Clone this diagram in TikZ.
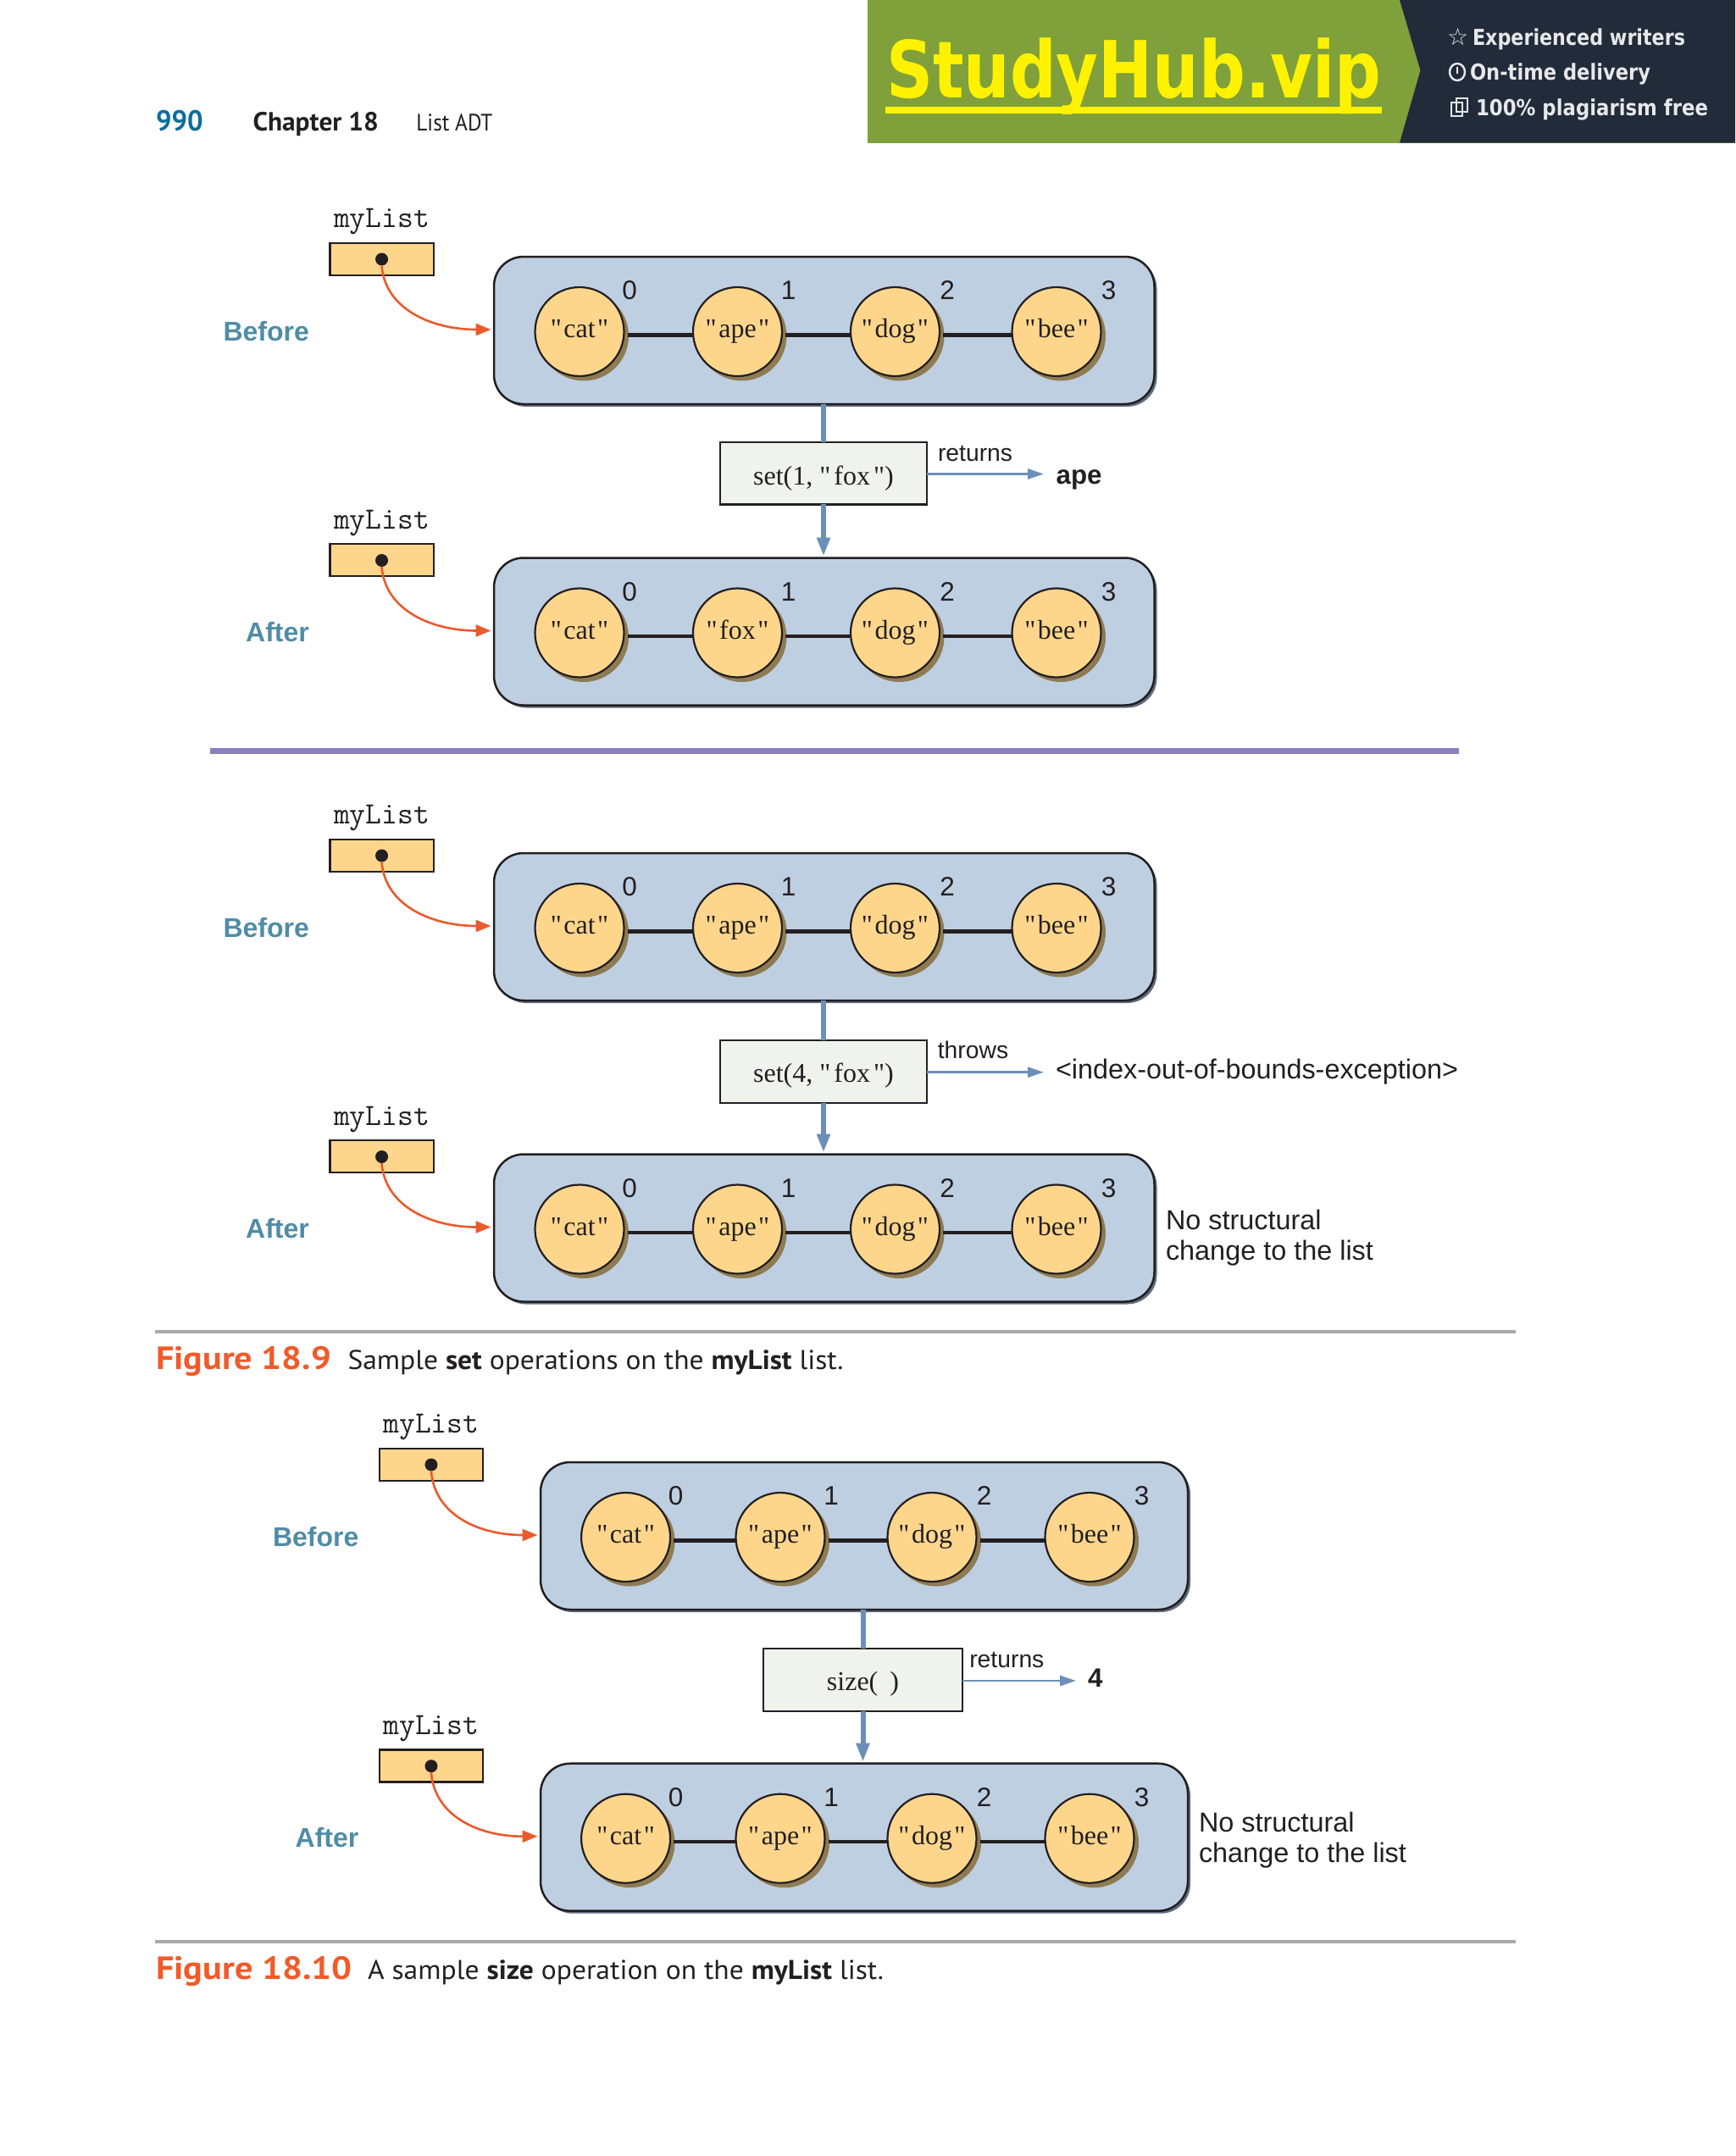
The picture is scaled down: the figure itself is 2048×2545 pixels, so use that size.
\documentclass[tikz,border=0pt]{standalone}
\usepackage{fontspec}
\usetikzlibrary{arrows.meta}
\setmainfont{Liberation Sans}
\newfontfamily\bookfont{PT Sans}
\newfontfamily\timesfont{Liberation Serif}
\newfontfamily\bannerfont{DejaVu Sans}
\newcommand{\fz}[1]{\fontsize{#1}{#1}\selectfont}
\newcommand{\fitw}[2]{\resizebox{#1pt}{\height}{#2}}
\newcommand{\qw}[1]{\char34\kern2.5pt #1\kern2.5pt\char34}
\definecolor{ink}{HTML}{231F20}
\definecolor{panelc}{HTML}{BFCFE2}
\definecolor{panelsh}{HTML}{5E6C80}
\definecolor{disc}{HTML}{FDD68C}
\definecolor{discsh}{HTML}{8F7B52}
\definecolor{flow}{HTML}{6C8FB8}
\definecolor{orangec}{HTML}{EA5A2C}
\definecolor{tealc}{HTML}{4F8CA6}
\definecolor{opfill}{HTML}{F0F2EE}
\definecolor{rulec}{HTML}{A9A9AB}
\definecolor{purplec}{HTML}{8B80BD}
\definecolor{figc}{HTML}{F15A29}
\definecolor{pagenum}{HTML}{0B6E99}
\definecolor{bgreen}{HTML}{7FA03A}
\definecolor{bdark}{HTML}{212B3A}
\definecolor{byellow}{HTML}{FFF200}
\definecolor{bwhite}{HTML}{E8E8EA}
\tikzset{
  txt/.style={inner sep=0pt,outer sep=0pt,text=ink,anchor=base},
  panelbox/.style={rectangle,rounded corners=35pt,draw=ink,line width=2.5pt,fill=panelc,inner sep=0pt,outer sep=0pt},
  panelshadow/.style={rectangle,rounded corners=35pt,fill=panelsh,inner sep=0pt,outer sep=0pt},
  disccirc/.style={circle,draw=ink,line width=2.2pt,fill=disc,minimum size=105pt,inner sep=0pt,outer sep=0pt},
  discshadow/.style={circle,fill=discsh,minimum size=106pt,inner sep=0pt,outer sep=0pt},
  linkl/.style={draw=ink,line width=4.5pt},
  refbox/.style={rectangle,draw=ink,line width=2.2pt,fill=disc,inner sep=0pt,outer sep=0pt},
  refdot/.style={circle,fill=ink,minimum size=15pt,inner sep=0pt,outer sep=0pt},
  refarrow/.style={draw=orangec,line width=2.6pt,-{Triangle[length=18pt,width=14pt,fill=orangec]}},
  opbox/.style={rectangle,draw=ink,line width=2.2pt,fill=opfill,inner sep=0pt,outer sep=0pt},
  flowthick/.style={draw=flow,line width=6pt},
  flowarrow/.style={draw=flow,line width=6pt,-{Triangle[length=22pt,width=15pt,fill=flow]},shorten >=2pt},
  flowthin/.style={draw=flow,line width=2.8pt,-{Triangle[length=19pt,width=12pt,fill=flow]}},
  mono/.style={txt,font=\ttfamily\fz{36.5}},
  idx/.style={txt,font=\fz{31.5}},
  word/.style={txt,font=\timesfont\fz{32}},
  sans/.style={txt,anchor=base west,font=\fz{32.4}},
  small/.style={txt,anchor=base west,font=\fz{28.3}},
  phase/.style={txt,anchor=base east,text=tealc,font=\bfseries\fz{32}},
  bookt/.style={txt,anchor=base west,font=\bookfont\fz{32}},
  bannert/.style={txt,anchor=base west,text=bwhite,font=\bannerfont\bfseries\fz{26}}
}
% #1 prefix, #2 panel top, #3 second word, #4 phase label
\newcommand{\listrow}[4]{%
\begin{scope}[shift={(0,#2)}]
  \node[panelshadow,minimum width={\pR-\pL},minimum height=174pt] (#1ps) at ({(\pL+\pR)/2+3},90) {};
  \node[panelbox,minimum width={\pR-\pL},minimum height=174pt] (#1p) at ({(\pL+\pR)/2},87) {};
  \foreach \cx/\nm in {\cA/a,\cB/b,\cC/c,\cD/d}{
    \node[discshadow] (#1\nm s) at (\cx+5,93.5) {};
    \node[disccirc] (#1\nm) at (\cx,88.5) {};
  }
  \draw[linkl] ([xshift=4pt,yshift=-4pt]#1a.east) -- ([yshift=-4pt]#1b.west);
  \draw[linkl] ([xshift=4pt,yshift=-4pt]#1b.east) -- ([yshift=-4pt]#1c.west);
  \draw[linkl] ([xshift=4pt,yshift=-4pt]#1c.east) -- ([yshift=-4pt]#1d.west);
  \node[word] (#1ta) at (\cA,95.7) {\qw{cat}};
  \node[word] (#1tb) at (\cB,95.7) {\qw{#3}};
  \node[word] (#1tc) at (\cC,95.7) {\qw{dog}};
  \node[word] (#1td) at (\cD,95.7) {\qw{bee}};
  \node[idx] (#1ia) at (\cA+59,50.5) {0};
  \node[idx] (#1ib) at (\cB+60,50.5) {1};
  \node[idx] (#1ic) at (\cC+61.5,50.5) {2};
  \node[idx] (#1id) at (\cD+61.5,50.5) {3};
  \node[refbox,minimum width={\bR-\bL},minimum height=38pt] (#1r) at ({(\bL+\bR)/2},2.7) {};
  \node[refdot] (#1dot) at ({(\bL+\bR)/2},3) {};
  \node[mono] (#1name) at ({(\bL+\bR)/2},-34.5) {myList};
  \coordinate (#1tip) at (\pL-3.5,86);
  \draw[refarrow] (#1dot.south) .. controls +(4,52) and +(-69,0) .. (#1tip);
  \node[phase] (#1phase) at (\bL-24.5,99.2) {#4};
\end{scope}}
\begin{document}
\begin{tikzpicture}[x=1pt,y=-1pt]
\useasboundingbox (0,0) rectangle (2048,2545);
% banner
\fill[bgreen] (1024,0) rectangle (2048,168.5);
\fill[bdark] (1652,0) -- (1676.5,83) -- (1652,168.5) -- (2048,168.5) -- (2048,0) -- cycle;
\node[txt,anchor=base west,text=byellow,font=\bannerfont\bfseries\fz{93}] (brand) at (1046,116) {\fitw{584}{StudyHub.vip}};
\fill[byellow] (1045,126) rectangle (1631,134);
\node[bannert,font=\bannerfont\bfseries\fz{28}] (bi1) at (1708,54) {☆};
\node[bannert] (b1) at (1738,53.5) {\fitw{251}{Experienced writers}};
\draw[bwhite,line width=2.4pt] (1720,85) ellipse (9 and 10);
\draw[bwhite,line width=2.2pt] (1720,79) -- (1720,87);
\node[bannert] (b2) at (1735,94.5) {\fitw{213}{On-time delivery}};
\draw[bwhite,line width=2pt] (1713,121) rectangle (1726,137);
\draw[bwhite,line width=2pt] (1719,116) rectangle (1732,132);
\node[bannert] (b3) at (1742,136.5) {\fitw{274}{100\% plagiarism free}};
% running head
\node[bookt,text=pagenum,font=\bookfont\bfseries\fz{34}] (pg) at (184,154) {\fitw{55.6}{990}};
\node[bookt,font=\bookfont\bfseries\fz{31}] (ch) at (298.5,154) {\fitw{148.5}{Chapter 18}};
\node[bookt,font=\bookfont\fz{28}] (adt) at (491.4,154) {\fitw{90}{List ADT}};
% figure 18.9
\def\pL{583}\def\pR{1362.5}\def\bL{389.4}\def\bR{511.7}
\def\cA{684}\def\cB{870.5}\def\cC{1056.5}\def\cD{1247}
\listrow{A}{303}{ape}{Before}
\listrow{B}{658.5}{fox}{After}
\node[opbox,minimum width=244pt,minimum height=73.5pt] (opA) at (972,558.7) {};
\node[word] (opAt) at (opA.center |- 0,572) {set(1, \char34\kern4pt fox\kern4pt\char34)};
\draw[flowthick] (opA.north) -- (opA.north |- Ap.south);
\draw[flowarrow] (opA.south) -- (opA.south |- Bp.north);
\coordinate (retA) at (1232,559.5);
\draw[flowthin] (opA.east |- retA) -- (retA);
\node[small] (retAt) at (1107,544) {returns};
\node[txt,anchor=base west,font=\bfseries\fz{31.3}] (apeR) at (1246.6,571.5) {ape};
\coordinate (divL) at (248,886); \coordinate (divR) at (1722,886);
\draw[purplec,line width=7pt] (divL) -- (divR);
\listrow{C}{1007}{ape}{Before}
\listrow{D}{1362.5}{ape}{After}
\node[opbox,minimum width=244pt,minimum height=74pt] (opB) at (972,1264.8) {};
\node[word] (opBt) at (opB.center |- 0,1277.7) {set(4, \char34\kern4pt fox\kern4pt\char34)};
\draw[flowthick] (opB.north) -- (opB.north |- Cp.south);
\draw[flowarrow] (opB.south) -- (opB.south |- Dp.north);
\coordinate (retB) at (1232,1265.7);
\draw[flowthin] (opB.east |- retB) -- (retB);
\node[small] (retBt) at (1106.8,1249) {throws};
\node[sans] (exc) at (1246,1273.7) {\fitw{475}{<index-out-of-bounds-exception>}};
\node[sans] (ns1) at (1376,1451.2) {No structural};
\node[sans] (ns2) at (1376,1487.2) {change to the list};
\coordinate (ruleAL) at (183,1572); \coordinate (ruleAR) at (1789,1572);
\draw[rulec,line width=4.5pt] (ruleAL) -- (ruleAR);
\node[bookt,text=figc,font=\bookfont\bfseries\fz{38}] (figA) at (184,1616) {\fitw{207}{Figure 18.9}};
\node[bookt] (capA) at (410.5,1616) {\fitw{585}{Sample {\bfseries set} operations on the {\bfseries myList} list.}};
% figure 18.10
\def\pL{638}\def\pR{1402}\def\bL{447.9}\def\bR{570}
\def\cA{738.6}\def\cB{921}\def\cC{1100}\def\cD{1286}
\listrow{E}{1726}{ape}{Before}
\listrow{F}{2081.7}{ape}{After}
\node[opbox,minimum width=235.7pt,minimum height=73.7pt] (opC) at (1018.5,1983.2) {};
\node[word] (opCt) at (opC.center |- 0,1995) {size(\kern14pt)};
\draw[flowthick] (opC.north) -- (opC.north |- Ep.south);
\draw[flowarrow] (opC.south) -- (opC.south |- Fp.north);
\coordinate (retC) at (1270,1984);
\draw[flowthin] (opC.east |- retC) -- (retC);
\node[small] (retCt) at (1144.3,1968) {returns};
\node[txt,anchor=base west,font=\bfseries\fz{31.3}] (four) at (1284,1991.5) {4};
\node[sans] (ns3) at (1415,2162.5) {No structural};
\node[sans] (ns4) at (1415,2198.5) {change to the list};
\coordinate (ruleBL) at (183,2292); \coordinate (ruleBR) at (1789,2292);
\draw[rulec,line width=4.5pt] (ruleBL) -- (ruleBR);
\node[bookt,text=figc,font=\bookfont\bfseries\fz{38}] (figB) at (184,2336) {\fitw{232}{Figure 18.10}};
\node[bookt] (capB) at (434,2336) {\fitw{609}{A sample {\bfseries size} operation on the {\bfseries myList} list.}};
\end{tikzpicture}
\end{document}
